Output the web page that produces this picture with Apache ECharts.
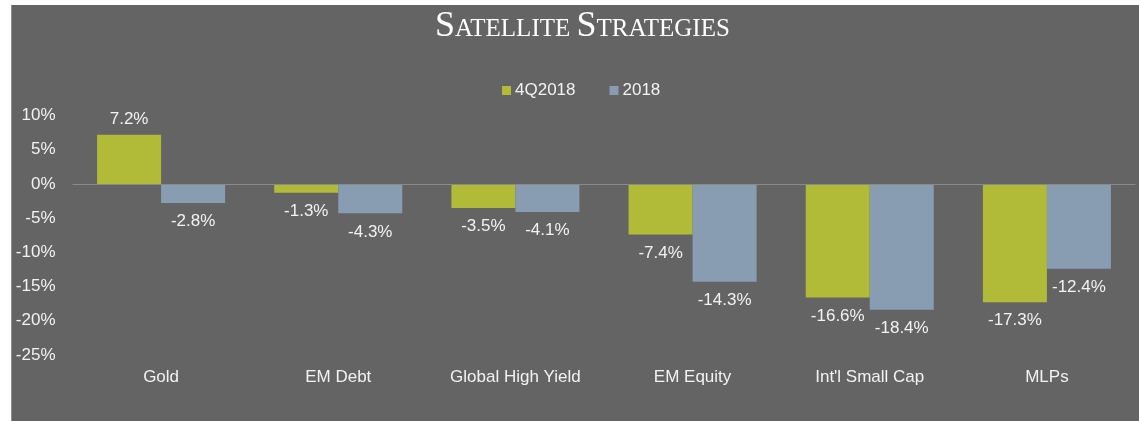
<!DOCTYPE html>
<html><head><meta charset="utf-8">
<script src="https://cdn.jsdelivr.net/npm/echarts@6/dist/echarts.min.js"></script>
<style>html,body{margin:0;padding:0;background:#fff}#c{width:1139px;height:421px}</style>
</head><body><div id="c"></div>
<script>
const categories = ['Gold', 'EM Debt', 'Global High Yield', 'EM Equity', "Int'l Small Cap", 'MLPs'];
const seriesNames = ['4Q2018', '2018'];
const q4_2018 = [7.2, -1.3, -3.5, -7.4, -16.6, -17.3];
const y2018 = [-2.8, -4.3, -4.1, -14.3, -18.4, -12.4];
const yMin = -25, yMax = 10, yStep = 5;

const FONT = 'Liberation Sans';
const TXT = '#f2f2f2';
const GREEN = '#b2bb37';
const BLUE = '#889db2';
const BG = '#646464';

function mk(vals) {
  return vals.map(v => ({ value: v, label: v >= 0 ? { position: 'top', distance: 7 } : { position: 'bottom', distance: 10 } }));
}

const chart = echarts.init(document.getElementById('c'), null, { renderer: 'canvas' });
chart.setOption({
  backgroundColor: BG,
  animation: false,
  graphic: { elements: [
    { type: 'rect', shape: { x: 0, y: 0, width: 11, height: 421 }, style: { fill: '#fff' }, silent: true },
    { type: 'rect', shape: { x: 0, y: 0, width: 1139, height: 5 }, style: { fill: '#fff' }, silent: true },
    { type: 'rect', shape: { x: 11, y: 5, width: 1, height: 416 }, style: { fill: '#8c8c8c' }, silent: true }
  ]},
  title: {
    text: '{b|S}{s|ATELLITE }{b|S}{s|TRATEGIES}',
    left: 430, top: 4,
    textStyle: {
      fontWeight: 'normal',
      rich: {
        b: { fontFamily: 'Liberation Serif', fontSize: 36, fontWeight: 'normal', color: '#fff', verticalAlign: 'bottom', lineHeight: 36 },
        s: { fontFamily: 'Liberation Serif', fontSize: 25, fontWeight: 'normal', color: '#fff', verticalAlign: 'bottom', lineHeight: 36, padding: [0, 0, 3, 0] }
      }
    }
  },
  legend: {
    data: seriesNames,
    left: 497, top: 77,
    itemWidth: 9, itemHeight: 9, itemGap: 34,
    icon: 'rect',
    textStyle: { color: TXT, fontFamily: FONT, fontSize: 17, padding: [0, 0, 0, -1] }
  },
  grid: { left: 72.5, right: 3.5, top: 115.5, bottom: 66, containLabel: false },
  xAxis: {
    type: 'category', data: categories,
    axisLine: { show: false }, axisTick: { show: false },
    axisLabel: { color: TXT, fontFamily: FONT, fontSize: 17, margin: 14 }
  },
  yAxis: {
    type: 'value', min: yMin, max: yMax, interval: yStep,
    axisLine: { show: false }, axisTick: { show: false }, splitLine: { show: false },
    axisLabel: { color: TXT, fontFamily: FONT, fontSize: 17, margin: 17, formatter: v => v + '%' }
  },
  series: [
    {
      name: seriesNames[0], type: 'bar', data: mk(q4_2018), barWidth: 64, barGap: '0%',
      itemStyle: { color: GREEN },
      label: { show: true, color: TXT, fontFamily: FONT, fontSize: 17, formatter: p => p.value.toFixed(1) + '%' },
      markLine: { silent: true, symbol: 'none', label: { show: false },
        lineStyle: { color: '#8a8a8a', width: 1, type: 'solid' }, data: [{ yAxis: 0 }] }
    },
    {
      name: seriesNames[1], type: 'bar', data: mk(y2018), barWidth: 64, barGap: '0%',
      itemStyle: { color: BLUE },
      label: { show: true, color: TXT, fontFamily: FONT, fontSize: 17, formatter: p => p.value.toFixed(1) + '%' }
    }
  ]
});
</script></body></html>
